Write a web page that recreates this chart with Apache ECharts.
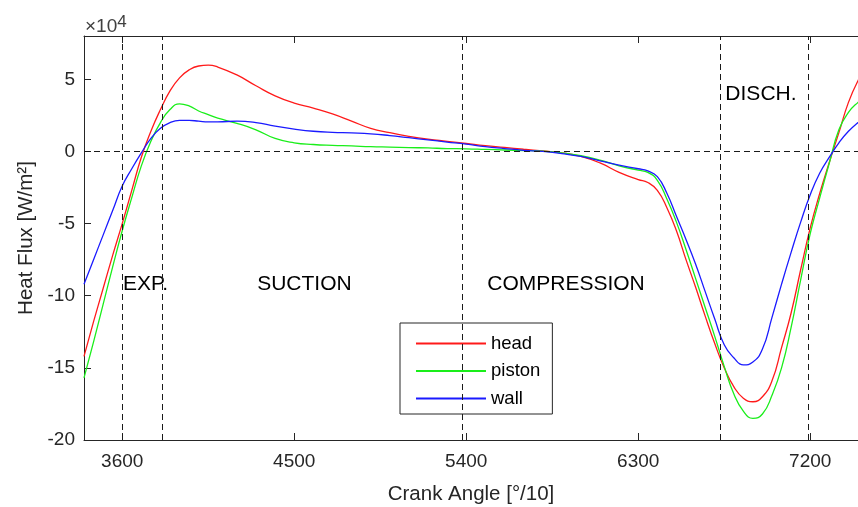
<!DOCTYPE html>
<html><head><meta charset="utf-8">
<script src="https://cdn.jsdelivr.net/npm/echarts@6/dist/echarts.min.js"></script>
<style>html,body{margin:0;padding:0;background:#fff}#c{width:858px;height:507px}</style>
</head><body><div id="c"></div>
<script>
// Crank angle [°/10]
const crankAngle = [3400,3450,3500,3550,3600,3650,3700,3750,3800,3850,3900,3950,4000,4050,4100,4200,4300,4400,4500,4600,4700,4800,4900,5000,5100,5200,5300,5400,5500,5600,5700,5800,5900,6000,6100,6200,6300,6350,6400,6450,6500,6550,6600,6650,6700,6750,6800,6850,6900,6950,7000,7050,7100,7150,7200,7250,7300,7350,7400,7450,7500];
// Heat flux, units of 1e4 W/m^2
const head = [-14.2,-11.8,-9.5,-7.2,-5.0,-2.7,-0.4,1.4,2.9,4.2,5.1,5.65,5.92,5.98,5.85,5.3,4.55,3.85,3.35,3.0,2.6,2.1,1.6,1.3,1.05,0.85,0.7,0.55,0.4,0.28,0.15,0.03,-0.1,-0.35,-0.8,-1.45,-1.95,-2.15,-2.7,-3.9,-5.5,-7.5,-9.4,-11.4,-13.3,-15.0,-16.3,-17.1,-17.35,-17.0,-15.9,-13.6,-11.2,-8.2,-5.3,-2.9,-0.75,1.3,3.4,4.9,6.0];
const piston = [-15.7,-13.2,-10.6,-8.0,-5.5,-3.2,-1.0,0.7,2.0,2.9,3.3,3.15,2.8,2.55,2.3,1.95,1.5,0.9,0.6,0.48,0.42,0.38,0.33,0.3,0.27,0.24,0.2,0.18,0.14,0.1,0.06,0.02,-0.1,-0.3,-0.6,-1.0,-1.3,-1.45,-2.0,-3.3,-4.9,-6.8,-8.8,-10.8,-12.8,-14.9,-16.8,-18.0,-18.5,-18.2,-16.9,-15.0,-12.2,-8.9,-5.7,-3.2,-0.8,1.5,2.7,3.4,3.9];
const wall = [-9.2,-7.5,-5.8,-4.1,-2.4,-1.2,-0.1,0.9,1.6,2.0,2.15,2.15,2.1,2.05,2.05,2.1,2.0,1.75,1.55,1.4,1.32,1.28,1.22,1.1,0.95,0.8,0.65,0.5,0.33,0.2,0.08,0.0,-0.15,-0.35,-0.65,-0.95,-1.2,-1.35,-1.75,-2.9,-4.5,-6.1,-7.8,-9.7,-11.6,-13.4,-14.3,-14.8,-14.6,-13.7,-11.5,-9.2,-7.0,-4.9,-3.0,-1.5,-0.4,0.6,1.4,2.0,2.5];

const xTicks = [3600,4500,5400,6300,7200];
const yTicks = [-20,-15,-10,-5,0,5];
const phaseLines = [3600,3810,5380,6730,7190];
const phaseNames = ['EXP.','SUCTION','COMPRESSION','DISCH.'];
const phaseNameX = [3604,4306,5510,6756];
const phaseNameY = [-9.17,-9.17,-9.17,4.0];

const FONT = "'Liberation Sans', Arial, Helvetica, sans-serif";
const AX = '#262626';

const zip = (xs, ys) => xs.map((x, i) => [x, ys[i]]);

const chart = echarts.init(document.getElementById('c'), null, {renderer: 'canvas'});
const lineSeries = (name, data, color) => ({
  name, type: 'line', data: zip(crankAngle, data), smooth: 0.5,
  symbol: 'none', showSymbol: false, clip: true,
  lineStyle: {color, width: 1.3}, itemStyle: {color}, z: 3
});

const option = {
  animation: false,
  backgroundColor: '#fff',
  textStyle: {fontFamily: FONT},
  grid: {left: 84, top: 36, width: 774, height: 404, containLabel: false, outerBoundsMode: 'none'},
  xAxis: [{
    type: 'value', min: 3400, max: 7450,
    name: 'Crank Angle [°/10]', nameLocation: 'middle', nameGap: 44,
    nameTextStyle: {fontSize: 20.5, color: AX, fontFamily: FONT},
    axisLine: {show: true, onZero: false, lineStyle: {color: AX, width: 1}},
    axisTick: {show: true, inside: true, length: 7, customValues: xTicks, lineStyle: {color: AX}},
    axisLabel: {show: true, customValues: xTicks, fontSize: 19, color: AX, margin: 12, fontFamily: FONT,
      formatter: v => String(v)},
    splitLine: {show: false}
  }, {
    type: 'value', min: 3400, max: 7450, position: 'top',
    axisLine: {show: true, onZero: false, lineStyle: {color: AX, width: 1}},
    axisTick: {show: true, inside: true, length: 7, customValues: xTicks, lineStyle: {color: AX}},
    axisLabel: {show: false}, splitLine: {show: false}
  }],
  yAxis: [{
    type: 'value', min: -20, max: 8,
    name: 'Heat Flux [W/m²]', nameLocation: 'middle', nameGap: 46,
    nameTextStyle: {fontSize: 20.5, color: AX, fontFamily: FONT},
    axisLine: {show: true, onZero: false, lineStyle: {color: AX, width: 1}},
    axisTick: {show: true, inside: true, length: 7, customValues: yTicks, lineStyle: {color: AX}},
    axisLabel: {show: true, customValues: yTicks, fontSize: 19, color: AX, margin: 9, fontFamily: FONT,
      padding: [4, 0, 0, 0], formatter: v => String(v)},
    splitLine: {show: false}
  }],
  legend: {
    data: ['head', 'piston', 'wall'], orient: 'vertical',
    left: 400, top: 323, padding: [11, 12, 6, 15],
    itemWidth: 70, itemHeight: 14, itemGap: 8.5,
    itemStyle: {opacity: 0},
    borderColor: AX, borderWidth: 1, backgroundColor: '#fff',
    textStyle: {fontSize: 18.5, color: '#000', fontFamily: FONT},
    selectedMode: false
  },
  series: [
    Object.assign(lineSeries('head', head, '#ff1a1a'), {
      markLine: {
        symbol: 'none', silent: true, label: {show: false},
        lineStyle: {type: [6, 4], color: '#1a1a1a', width: 1},
        data: [{yAxis: 0}].concat(phaseLines.map(v => ({xAxis: v})))
      }
    }),
    lineSeries('piston', piston, '#1aee1a'),
    lineSeries('wall', wall, '#1a1aff'),
    {
      name: 'phases', type: 'scatter', symbolSize: 0, silent: true, z: 4,
      data: phaseNameX.map((x, i) => ({value: [x, phaseNameY[i]], name: phaseNames[i]})),
      label: {show: true, position: 'inside', align: 'left', verticalAlign: 'middle',
        formatter: p => p.name, fontSize: 21, color: '#000', opacity: 1, fontFamily: FONT}
    }
  ],
  graphic: [{
    type: 'text', left: 85, top: 14,
    style: {text: '×10{s|4}', fontSize: 19, fill: '#404040', fontFamily: FONT,
      rich: {s: {fontSize: 17, fill: '#404040', fontFamily: FONT, padding: [0, 0, 9, 0]}}}
  }]
};
chart.setOption(option);
</script>
</body></html>
